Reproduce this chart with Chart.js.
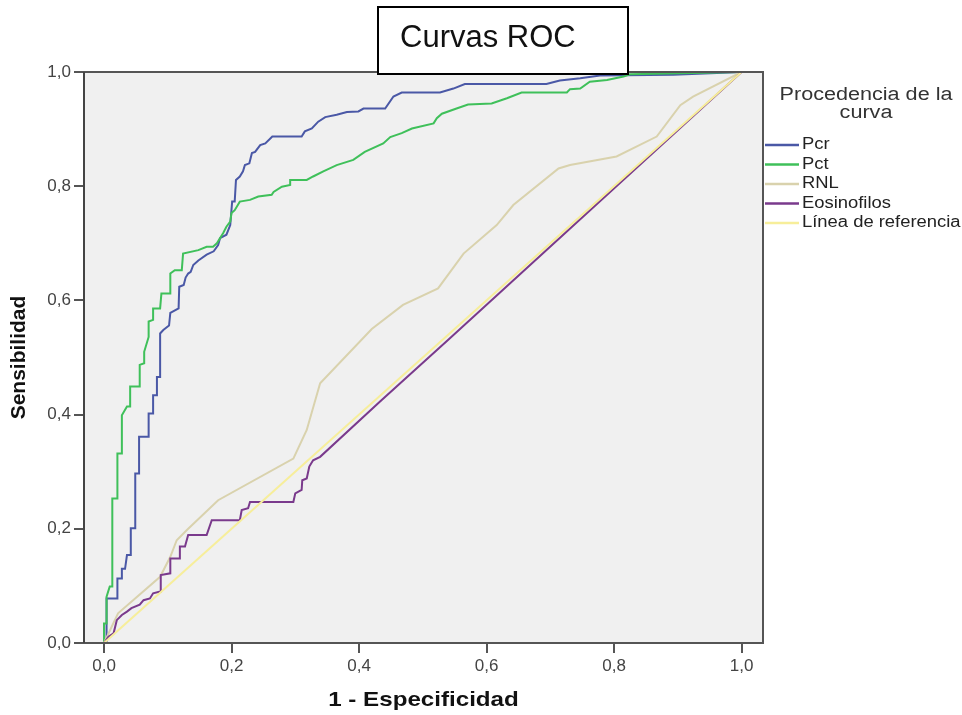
<!DOCTYPE html>
<html>
<head>
<meta charset="utf-8">
<script src="https://cdn.jsdelivr.net/npm/chart.js@4.4.1/dist/chart.umd.min.js"></script>
<style>
  body { margin: 0; background: #fff; }
  #wrap { width: 962px; height: 715px; }
</style>
</head>
<body>
<div id="wrap"><canvas id="roc" width="962" height="715"></canvas></div>
<script>
// valores (1 - especificidad, sensibilidad)
const seriesNames = ['Pcr', 'Pct', 'RNL', 'Eosinofilos', 'Línea de referencia'];
const seriesColors = ['#4a58a6', '#3fc05a', '#d9d2ad', '#7a3a8c', '#f7ee9a'];

const pcr = [[0,0],[0.004,0],[0.004,0.078],[0.021,0.078],[0.021,0.113],[0.028,0.113],[0.028,0.13],[0.033,0.13],[0.036,0.154],
  [0.042,0.154],[0.042,0.201],[0.049,0.201],[0.049,0.297],[0.055,0.297],[0.055,0.361],[0.070,0.361],[0.070,0.402],
  [0.077,0.402],[0.077,0.434],[0.083,0.434],[0.083,0.466],[0.088,0.466],[0.088,0.542],[0.093,0.548],[0.102,0.556],
  [0.104,0.578],[0.117,0.586],[0.118,0.624],[0.125,0.627],[0.128,0.64],[0.132,0.647],[0.136,0.650],[0.140,0.662],
  [0.148,0.670],[0.161,0.680],[0.172,0.686],[0.179,0.697],[0.182,0.709],[0.192,0.715],[0.198,0.732],[0.201,0.773],
  [0.205,0.773],[0.207,0.811],[0.213,0.817],[0.218,0.826],[0.221,0.837],[0.228,0.840],[0.232,0.858],[0.237,0.860],
  [0.245,0.872],[0.253,0.875],[0.264,0.887],[0.310,0.887],[0.315,0.896],[0.326,0.901],[0.336,0.913],[0.347,0.921],
  [0.365,0.925],[0.381,0.930],[0.399,0.931],[0.407,0.936],[0.441,0.936],[0.454,0.957],[0.467,0.964],[0.527,0.964],
  [0.548,0.971],[0.566,0.979],[0.694,0.979],[0.715,0.985],[0.747,0.989],[0.778,0.994],[0.893,0.995],[1,1]];

const pct = [[0,0],[0,0.034],[0.004,0.034],[0.004,0.081],[0.009,0.099],[0.013,0.099],[0.013,0.253],[0.021,0.253],
  [0.021,0.332],[0.028,0.332],[0.028,0.399],[0.036,0.414],[0.041,0.414],[0.041,0.449],[0.056,0.449],[0.056,0.487],
  [0.063,0.490],[0.063,0.510],[0.070,0.536],[0.070,0.563],[0.077,0.566],[0.077,0.586],[0.088,0.586],[0.090,0.612],
  [0.104,0.612],[0.104,0.647],[0.111,0.653],[0.122,0.653],[0.124,0.682],[0.148,0.688],[0.161,0.694],[0.171,0.694],
  [0.177,0.700],[0.187,0.718],[0.192,0.729],[0.198,0.738],[0.200,0.753],[0.205,0.758],[0.213,0.773],[0.229,0.776],
  [0.242,0.782],[0.263,0.785],[0.266,0.790],[0.279,0.799],[0.292,0.802],[0.292,0.811],[0.318,0.811],[0.328,0.817],
  [0.344,0.826],[0.365,0.837],[0.391,0.846],[0.409,0.860],[0.438,0.875],[0.449,0.886],[0.467,0.893],[0.483,0.901],
  [0.517,0.910],[0.522,0.919],[0.530,0.927],[0.553,0.936],[0.571,0.943],[0.608,0.945],[0.632,0.954],[0.655,0.964],
  [0.726,0.964],[0.731,0.970],[0.747,0.971],[0.762,0.983],[0.789,0.986],[0.815,0.992],[0.825,0.996],[1,1]];

const rnl = [[0,0],[0.022,0.052],[0.088,0.116],[0.104,0.151],[0.114,0.180],[0.130,0.198],[0.179,0.250],[0.297,0.323],
  [0.318,0.373],[0.339,0.455],[0.42,0.55],[0.469,0.592],[0.524,0.621],[0.564,0.682],[0.616,0.732],[0.642,0.767],
  [0.713,0.831],[0.731,0.837],[0.804,0.852],[0.867,0.887],[0.904,0.942],[0.924,0.957],[1,1]];

const eos = [[0,0],[0.007,0.011],[0.015,0.017],[0.020,0.040],[0.028,0.049],[0.036,0.055],[0.043,0.061],[0.056,0.067],
  [0.062,0.075],[0.072,0.078],[0.077,0.087],[0.088,0.090],[0.089,0.119],[0.104,0.122],[0.104,0.148],[0.119,0.148],
  [0.119,0.169],[0.127,0.169],[0.132,0.189],[0.161,0.189],[0.169,0.215],[0.213,0.215],[0.216,0.233],[0.226,0.236],
  [0.229,0.247],[0.297,0.247],[0.300,0.262],[0.310,0.268],[0.311,0.285],[0.318,0.288],[0.322,0.309],[0.328,0.320],
  [0.339,0.326],[0.433,0.423],[0.54,0.531],[1,1]];

const ref = [[0,0],[1,1]];

const xTicks = [0, 0.2, 0.4, 0.6, 0.8, 1.0];
const yTicks = [0, 0.2, 0.4, 0.6, 0.8, 1.0];

const FONT = '"Liberation Sans", Arial, sans-serif';

function pts(a) { return a.map(p => ({x: p[0], y: p[1]})); }
function coma(v) { return v.toFixed(1).replace('.', ','); }

const allSeries = [pcr, pct, rnl, eos, ref];

const datasets = allSeries.map((s, i) => ({
  label: seriesNames[i],
  data: pts(s),
  showLine: true,
  borderColor: seriesColors[i],
  borderWidth: 2,
  pointRadius: 0,
  fill: false,
  order: 5 - i
}));

// texto con estiramiento horizontal
function texto(ctx, t, x, y, font, sx, align, color) {
  ctx.save();
  ctx.font = font;
  ctx.fillStyle = color || '#222';
  ctx.textBaseline = 'middle';
  ctx.textAlign = align || 'left';
  ctx.translate(x, y);
  ctx.scale(sx, 1);
  ctx.fillText(t, 0, 0);
  ctx.restore();
}

const decoracion = {
  id: 'decoracion',
  beforeDraw(chart) {
    const ctx = chart.ctx, a = chart.chartArea;
    ctx.save();
    ctx.fillStyle = '#fff';
    ctx.fillRect(0, 0, chart.width, chart.height);
    ctx.fillStyle = '#f0f0f0';
    ctx.fillRect(a.left, a.top, a.right - a.left, a.bottom - a.top);
    ctx.restore();
  },
  afterDraw(chart) {
    const ctx = chart.ctx, a = chart.chartArea;
    ctx.save();
    ctx.strokeStyle = '#555';
    ctx.lineWidth = 2;
    ctx.strokeRect(a.left, a.top, a.right - a.left, a.bottom - a.top);
    ctx.strokeStyle = '#444';
    ctx.beginPath();
    ctx.moveTo(a.left, a.top);
    ctx.lineTo(a.left, a.bottom);
    ctx.stroke();
    ctx.restore();

    // titulos de ejes
    texto(ctx, '1 - Especificidad', (a.left + a.right) / 2, 700, 'bold 21px ' + FONT, 1.15, 'center', '#111');
    ctx.save();
    ctx.translate(19, (a.top + a.bottom) / 2);
    ctx.rotate(-Math.PI / 2);
    texto(ctx, 'Sensibilidad', 0, 0, 'bold 20px ' + FONT, 1.05, 'center', '#111');
    ctx.restore();

    // leyenda
    texto(ctx, 'Procedencia de la', 866, 95, '18px ' + FONT, 1.2, 'center', '#333');
    texto(ctx, 'curva', 866, 113, '18px ' + FONT, 1.2, 'center', '#333');
    chart.data.datasets.forEach((ds, i) => {
      const y = 145 + i * 19.5;
      ctx.save();
      ctx.strokeStyle = ds.borderColor;
      ctx.lineWidth = 2.5;
      ctx.beginPath();
      ctx.moveTo(765, y);
      ctx.lineTo(799, y);
      ctx.stroke();
      ctx.restore();
      texto(ctx, ds.label, 802, y, '16px ' + FONT, 1.15, 'left', '#222');
    });

    // recuadro del titulo
    ctx.save();
    ctx.fillStyle = '#fff';
    ctx.fillRect(378, 7, 250, 67);
    ctx.strokeStyle = '#000';
    ctx.lineWidth = 2;
    ctx.strokeRect(378, 7, 250, 67);
    ctx.restore();
    texto(ctx, 'Curvas ROC', 400, 38, '31px ' + FONT, 1.0, 'left', '#111');
  }
};

new Chart(document.getElementById('roc'), {
  type: 'scatter',
  data: { datasets: datasets },
  plugins: [decoracion],
  options: {
    responsive: false,
    animation: false,
    layout: { padding: { top: 72, right: 199, left: 0, bottom: 0 } },
    plugins: { legend: { display: false }, tooltip: { enabled: false } },
    scales: {
      x: {
        type: 'linear',
        min: -0.0314,
        max: 1.0337,
        afterBuildTicks: s => { s.ticks = xTicks.map(v => ({ value: v })); },
        afterFit: s => { s.height = 72; },
        ticks: { callback: v => coma(v), font: { family: FONT, size: 17 }, color: '#444', padding: 3, maxRotation: 0, autoSkip: false },
        grid: { drawOnChartArea: false, drawTicks: true, tickLength: 10, color: '#555', lineWidth: 2 },
        border: { display: false }
      },
      y: {
        type: 'linear',
        min: 0,
        max: 1,
        afterBuildTicks: s => { s.ticks = yTicks.map(v => ({ value: v })); },
        afterFit: s => { s.width = 84; },
        ticks: { callback: v => coma(v), font: { family: FONT, size: 17 }, color: '#444', padding: 3, autoSkip: false },
        grid: { drawOnChartArea: false, drawTicks: true, tickLength: 10, color: '#555', lineWidth: 2 },
        border: { display: false }
      }
    }
  }
});
</script>
</body>
</html>
